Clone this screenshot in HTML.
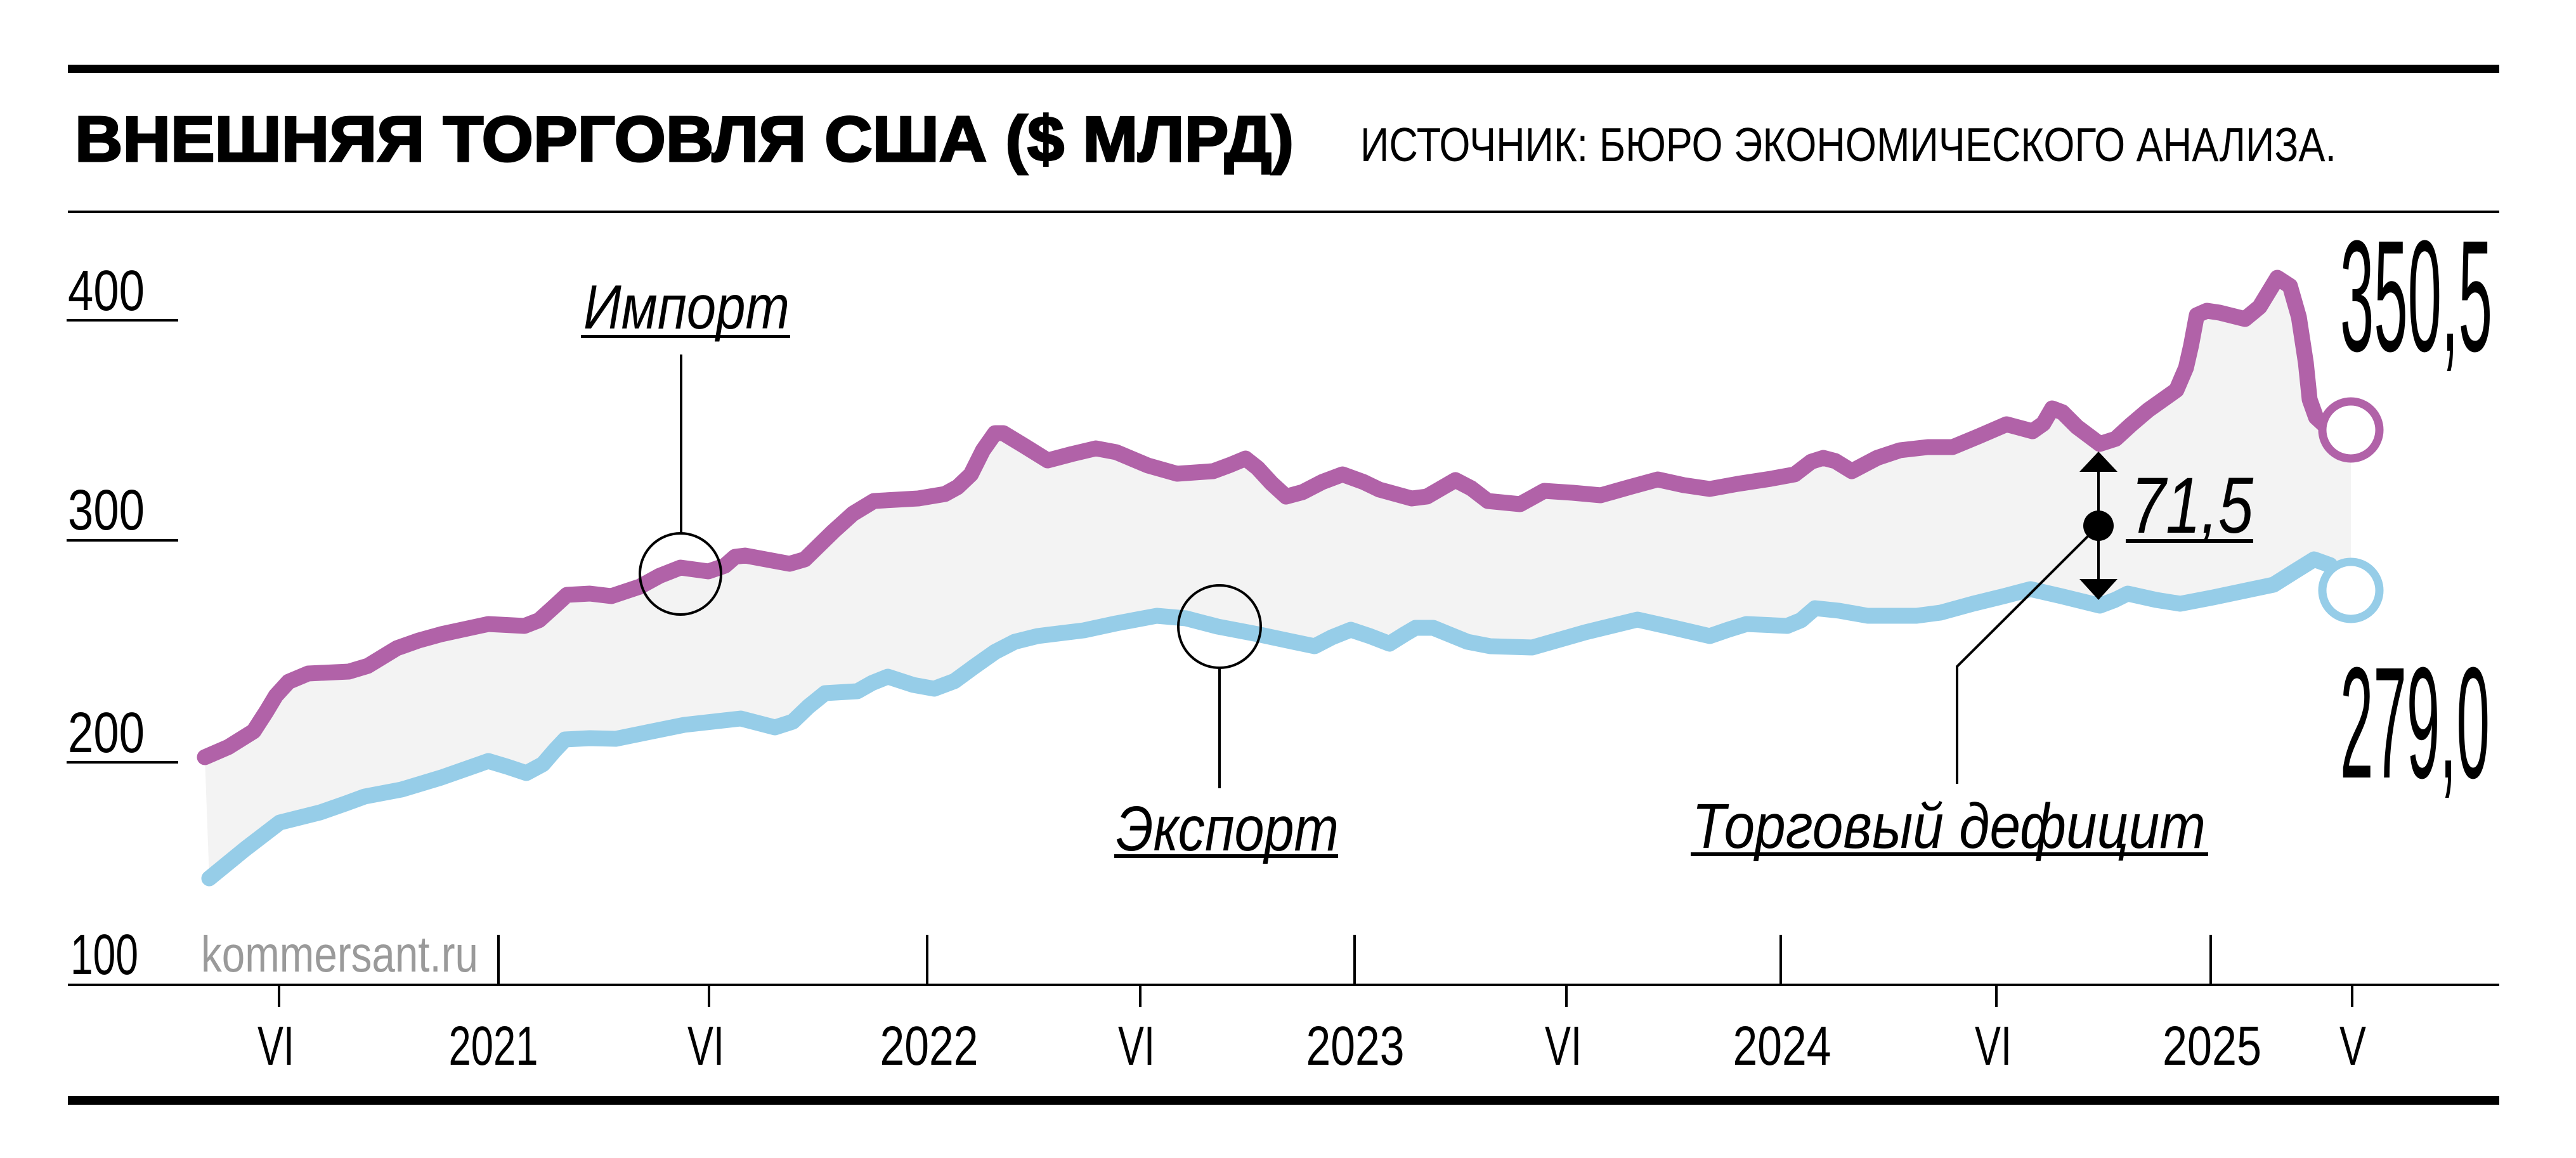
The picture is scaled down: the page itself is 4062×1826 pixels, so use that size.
<!DOCTYPE html>
<html><head><meta charset="utf-8">
<style>html,body{margin:0;padding:0;background:#fff}svg{display:block}</style>
</head><body>
<svg width="4062" height="1826" viewBox="0 0 4062 1826" xmlns="http://www.w3.org/2000/svg">
<rect width="4062" height="1826" fill="#fff"/>
<!-- rules -->
<rect x="107" y="102" width="3834" height="13" fill="#000"/>
<rect x="107" y="332" width="3834" height="4" fill="#000"/>
<rect x="107" y="1551" width="3834" height="4" fill="#000"/>
<rect x="107" y="1728" width="3834" height="14" fill="#000"/>

<!-- title -->
<text x="118" y="254" font-family="Liberation Sans, DejaVu Sans, sans-serif" font-weight="bold" font-size="101" fill="#000" stroke="#000" stroke-width="3" textLength="1922" lengthAdjust="spacingAndGlyphs">ВНЕШНЯЯ ТОРГОВЛЯ США ($ МЛРД)</text>
<text x="2145" y="254" font-family="Liberation Sans, DejaVu Sans, sans-serif" font-size="75" fill="#000" textLength="1539" lengthAdjust="spacingAndGlyphs">ИСТОЧНИК: БЮРО ЭКОНОМИЧЕСКОГО АНАЛИЗА.</text>

<!-- y ticks -->
<g fill="#000">
<rect x="105" y="503" width="176" height="4"/>
<rect x="105" y="850" width="176" height="4"/>
<rect x="105" y="1200" width="176" height="4"/>
</g>
<g font-family="Liberation Sans, DejaVu Sans, sans-serif" font-size="90" fill="#000">
<text x="107" y="489" textLength="121" lengthAdjust="spacingAndGlyphs">400</text>
<text x="107" y="835" textLength="121" lengthAdjust="spacingAndGlyphs">300</text>
<text x="107" y="1186" textLength="121" lengthAdjust="spacingAndGlyphs">200</text>
<text x="111" y="1536" textLength="107" lengthAdjust="spacingAndGlyphs">100</text>
</g>
<text x="317" y="1532" font-family="Liberation Sans, DejaVu Sans, sans-serif" font-size="80" fill="#9a9a9a" textLength="437" lengthAdjust="spacingAndGlyphs">kommersant.ru</text>

<!-- x ticks -->
<g stroke="#000" stroke-width="4">
<line x1="786" y1="1474" x2="786" y2="1552"/>
<line x1="1462" y1="1474" x2="1462" y2="1552"/>
<line x1="2136" y1="1474" x2="2136" y2="1552"/>
<line x1="2808" y1="1474" x2="2808" y2="1552"/>
<line x1="3486" y1="1474" x2="3486" y2="1552"/>
<line x1="440" y1="1554" x2="440" y2="1588"/>
<line x1="1118" y1="1554" x2="1118" y2="1588"/>
<line x1="1798" y1="1554" x2="1798" y2="1588"/>
<line x1="2470" y1="1554" x2="2470" y2="1588"/>
<line x1="3148" y1="1554" x2="3148" y2="1588"/>
<line x1="3709" y1="1554" x2="3709" y2="1588"/>
</g>
<g font-family="Liberation Sans, DejaVu Sans, sans-serif" font-size="87" fill="#000" text-anchor="middle">
<text x="435" y="1679" textLength="58" lengthAdjust="spacingAndGlyphs">VI</text>
<text x="778" y="1679" textLength="141" lengthAdjust="spacingAndGlyphs">2021</text>
<text x="1113" y="1679" textLength="58" lengthAdjust="spacingAndGlyphs">VI</text>
<text x="1465" y="1679" textLength="155" lengthAdjust="spacingAndGlyphs">2022</text>
<text x="1792" y="1679" textLength="58" lengthAdjust="spacingAndGlyphs">VI</text>
<text x="2137" y="1679" textLength="155" lengthAdjust="spacingAndGlyphs">2023</text>
<text x="2465" y="1679" textLength="58" lengthAdjust="spacingAndGlyphs">VI</text>
<text x="2810" y="1679" textLength="155" lengthAdjust="spacingAndGlyphs">2024</text>
<text x="3143" y="1679" textLength="58" lengthAdjust="spacingAndGlyphs">VI</text>
<text x="3488" y="1679" textLength="156" lengthAdjust="spacingAndGlyphs">2025</text>
<text x="3710" y="1679" textLength="42" lengthAdjust="spacingAndGlyphs">V</text>
</g>

<!-- fill band -->
<polygon fill="#f3f3f3" points="323,1194 360,1178 400,1153 420,1122 435,1097 455,1075 486,1062 550,1059 580,1050 626,1022 660,1010 696,1000 770,984 827,987 850,978 870,960 894,938 930,936 964,940 1009,925 1040,908 1073,895 1117,901 1143,892 1159,878 1175,876 1245,889 1269,882 1314,838 1345,810 1378,790 1448,786 1490,779 1510,768 1531,748 1550,710 1569,683 1582,683 1615,703 1652,726 1690,716 1728,707 1760,713 1810,734 1856,747 1913,743 1940,733 1964,723 1983,738 2005,762 2028,783 2054,776 2085,760 2117,748 2150,760 2175,772 2226,786 2250,783 2295,757 2320,770 2346,790 2397,795 2435,774 2480,777 2524,781 2570,768 2614,756 2655,765 2696,771 2740,763 2792,755 2830,748 2856,728 2875,722 2894,727 2920,743 2960,722 2996,710 3040,705 3079,705 3120,688 3164,669 3205,680 3222,668 3236,644 3252,650 3275,673 3311,700 3336,692 3360,670 3387,647 3432,615 3447,580 3455,545 3464,497 3480,490 3500,493 3540,503 3563,484 3591,438 3611,451 3625,500 3636,572 3642,630 3652,658 3665,670 3707,678 3707,931 3674,891 3649,882 3620,900 3585,922 3547,930 3490,942 3438,952 3400,946 3355,936 3335,946 3311,955 3250,940 3202,929 3160,940 3111,952 3060,966 3022,971 2945,971 2900,963 2862,959 2840,978 2818,987 2754,984 2725,993 2696,1003 2640,990 2582,977 2500,997 2416,1021 2350,1019 2314,1012 2260,990 2232,990 2215,1000 2191,1015 2160,1003 2130,993 2100,1005 2073,1019 2030,1010 1983,1000 1920,988 1870,975 1824,971 1760,983 1709,994 1636,1003 1600,1012 1569,1028 1535,1052 1505,1074 1473,1086 1440,1080 1400,1067 1375,1077 1352,1090 1301,1093 1275,1114 1250,1138 1222,1147 1195,1140 1168,1133 1079,1143 1015,1156 971,1165 930,1164 891,1166 875,1183 856,1205 830,1219 800,1209 770,1200 696,1226 633,1245 575,1256 545,1267 505,1281 441,1297 385,1340 330,1385"/>

<!-- series -->
<polyline fill="none" stroke="#96cde8" stroke-width="25" stroke-linejoin="round" stroke-linecap="round" points="330,1385 385,1340 441,1297 505,1281 545,1267 575,1256 633,1245 696,1226 770,1200 800,1209 830,1219 856,1205 875,1183 891,1166 930,1164 971,1165 1015,1156 1079,1143 1168,1133 1195,1140 1222,1147 1250,1138 1275,1114 1301,1093 1352,1090 1375,1077 1400,1067 1440,1080 1473,1086 1505,1074 1535,1052 1569,1028 1600,1012 1636,1003 1709,994 1760,983 1824,971 1870,975 1920,988 1983,1000 2030,1010 2073,1019 2100,1005 2130,993 2160,1003 2191,1015 2215,1000 2232,990 2260,990 2314,1012 2350,1019 2416,1021 2500,997 2582,977 2640,990 2696,1003 2725,993 2754,984 2818,987 2840,978 2862,959 2900,963 2945,971 3022,971 3060,966 3111,952 3160,940 3202,929 3250,940 3311,955 3335,946 3355,936 3400,946 3438,952 3490,942 3547,930 3585,922 3620,900 3649,882 3674,891 3707,931"/>
<polyline fill="none" stroke="#b162a8" stroke-width="25" stroke-linejoin="round" stroke-linecap="round" points="323,1194 360,1178 400,1153 420,1122 435,1097 455,1075 486,1062 550,1059 580,1050 626,1022 660,1010 696,1000 770,984 827,987 850,978 870,960 894,938 930,936 964,940 1009,925 1040,908 1073,895 1117,901 1143,892 1159,878 1175,876 1245,889 1269,882 1314,838 1345,810 1378,790 1448,786 1490,779 1510,768 1531,748 1550,710 1569,683 1582,683 1615,703 1652,726 1690,716 1728,707 1760,713 1810,734 1856,747 1913,743 1940,733 1964,723 1983,738 2005,762 2028,783 2054,776 2085,760 2117,748 2150,760 2175,772 2226,786 2250,783 2295,757 2320,770 2346,790 2397,795 2435,774 2480,777 2524,781 2570,768 2614,756 2655,765 2696,771 2740,763 2792,755 2830,748 2856,728 2875,722 2894,727 2920,743 2960,722 2996,710 3040,705 3079,705 3120,688 3164,669 3205,680 3222,668 3236,644 3252,650 3275,673 3311,700 3336,692 3360,670 3387,647 3432,615 3447,580 3455,545 3464,497 3480,490 3500,493 3540,503 3563,484 3591,438 3611,451 3625,500 3636,572 3642,630 3652,658 3665,670 3707,678"/>

<!-- end circles -->
<circle cx="3707" cy="678" r="45" fill="#fff" stroke="#b162a8" stroke-width="13"/>
<circle cx="3707" cy="931" r="45" fill="#fff" stroke="#96cde8" stroke-width="13"/>

<!-- annotations -->
<g stroke="#000" stroke-width="4" fill="none">
<circle cx="1073" cy="905" r="64"/>
<line x1="1074" y1="559" x2="1074" y2="841"/>
<circle cx="1923" cy="988" r="65"/>
<line x1="1923" y1="1053" x2="1923" y2="1243"/>
<line x1="3309" y1="740" x2="3309" y2="918"/>
<polyline points="3309,829 3086,1051 3086,1236"/>
</g>
<polygon points="3309,712 3279,744 3339,744" fill="#000"/>
<polygon points="3309,946 3279,913 3339,913" fill="#000"/>
<circle cx="3309" cy="829" r="24" fill="#000"/>

<g font-family="Liberation Sans, DejaVu Sans, sans-serif" font-style="italic" fill="#000">
<text x="920" y="518" font-size="98" textLength="325" lengthAdjust="spacingAndGlyphs">Импорт</text>
<text x="1760" y="1341" font-size="100" textLength="351" lengthAdjust="spacingAndGlyphs">Экспорт</text>
<text x="2668" y="1337" font-size="100" textLength="810" lengthAdjust="spacingAndGlyphs">Торговый дефицит</text>
<text x="3360" y="840" font-size="125" textLength="193" lengthAdjust="spacingAndGlyphs">71,5</text>
</g>
<g fill="#000">
<rect x="916" y="528" width="330" height="5"/>
<rect x="1757" y="1347" width="353" height="6"/>
<rect x="2666" y="1344" width="816" height="6"/>
<rect x="3352" y="850" width="201" height="6"/>
</g>

<g font-family="Liberation Sans, DejaVu Sans, sans-serif" fill="#000">
<text x="3690" y="553" font-size="250" textLength="240" lengthAdjust="spacingAndGlyphs">350,5</text>
<text x="3690" y="1226" font-size="250" textLength="236" lengthAdjust="spacingAndGlyphs">279,0</text>
</g>
</svg>
</body></html>
